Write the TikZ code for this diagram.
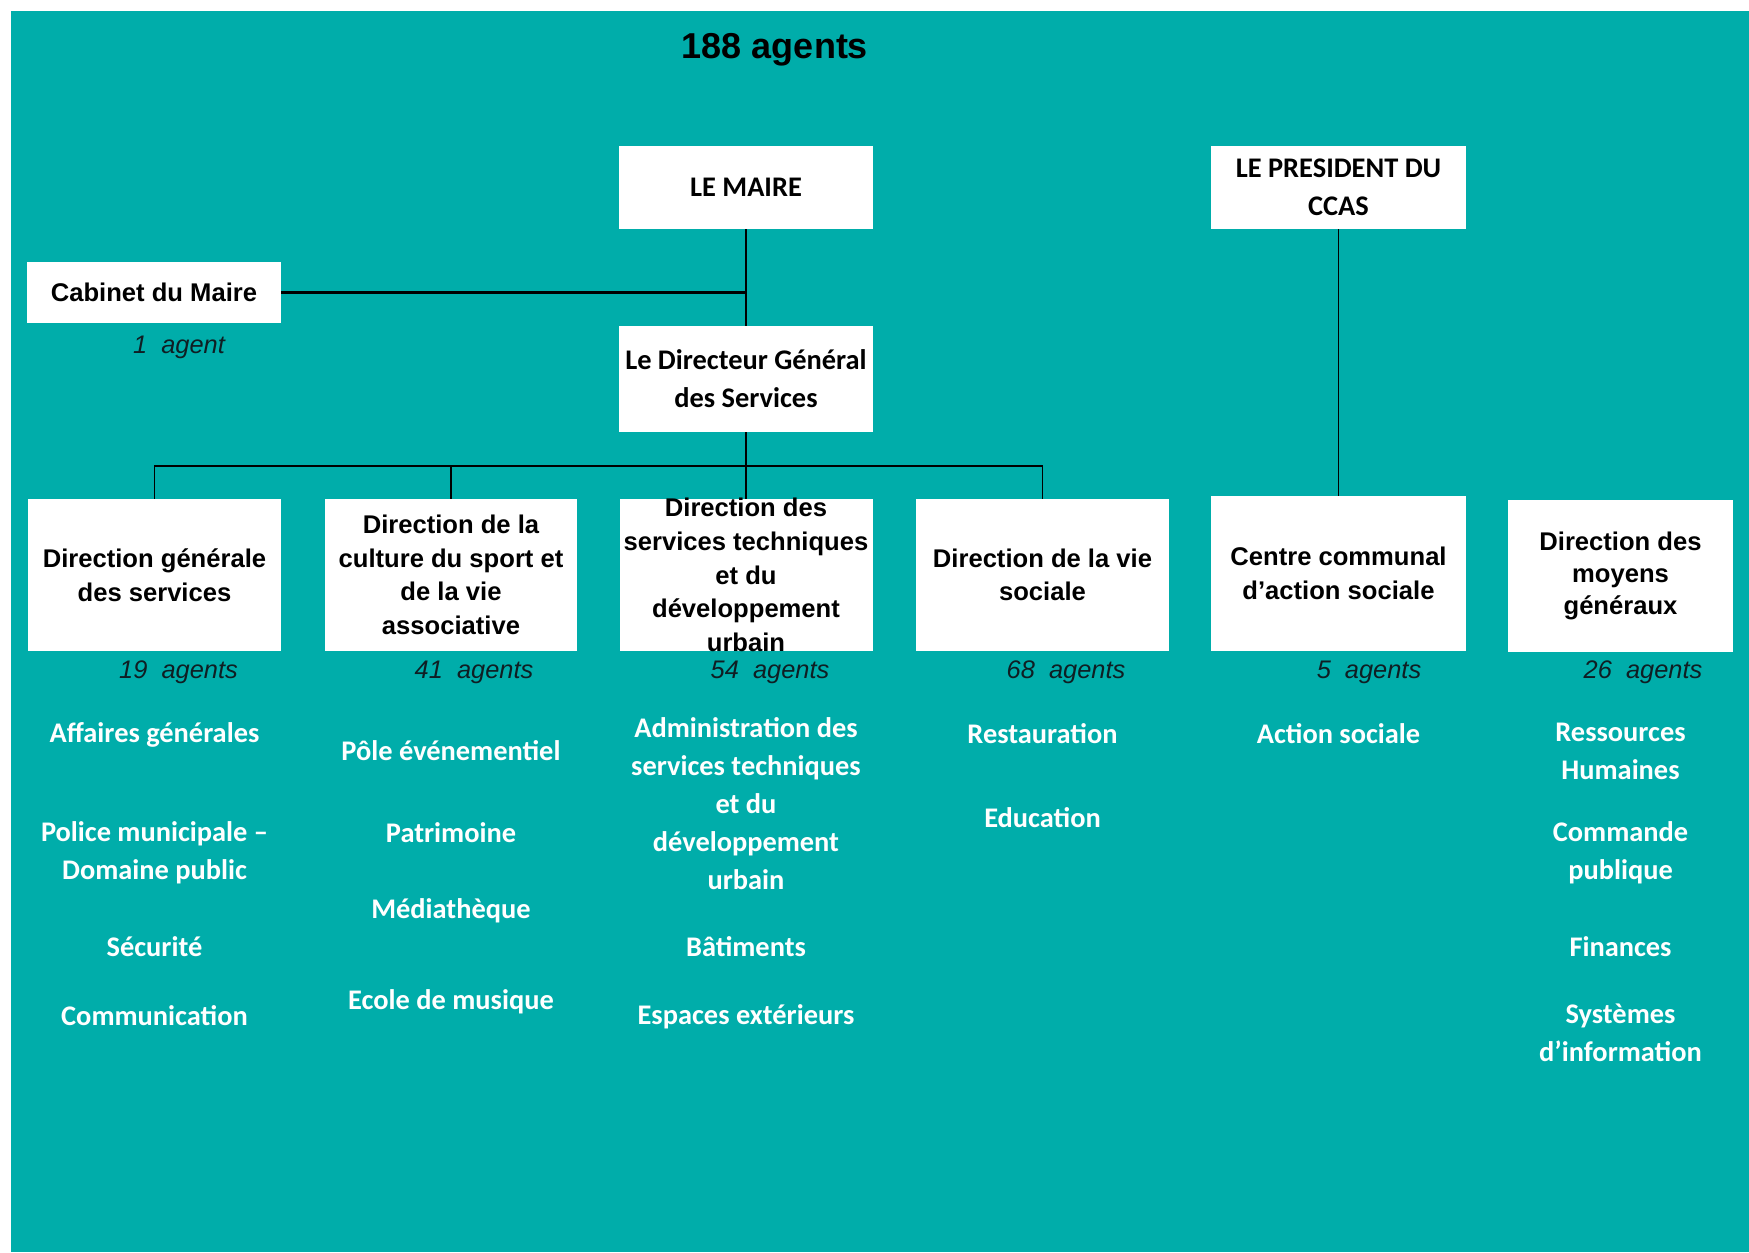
\documentclass[tikz,border=0pt]{standalone}
\usepackage{fontspec}
\setmainfont{Liberation Sans}
\newfontfamily\carlito{Carlito}
\definecolor{fond}{RGB}{0,173,170}
\definecolor{encre}{RGB}{15,30,35}
\newcommand{\cadre}[3]{\parbox[c][#2][c]{#1}{\centering #3}}
\begin{document}
\begin{tikzpicture}[x=0.5pt,y=-0.5pt,
    boite/.style={fill=white,inner sep=0pt,font=\bfseries\fontsize{12.8}{16.8}\selectfont},
    chef/.style={fill=white,inner sep=0pt,font=\carlito\bfseries\fontsize{14.2}{19}\selectfont},
    effectif/.style={font=\itshape\fontsize{12.7}{15}\selectfont,text=encre},
    service/.style={font=\carlito\bfseries\fontsize{14.2}{19}\selectfont,text=white,align=center},
    lien/.style={draw=black,line width=0.8pt}]
    \useasboundingbox (0,0) rectangle (1749,1252);
    \fill[fond] (11,11) rectangle (1749,1252);
    \node[font=\bfseries\fontsize{18}{22}\selectfont,anchor=base] (titre) at (775,59) {188 agents};

    \node[chef] (maire) at (746,187.5) {\cadre{127pt}{41.5pt}{LE MAIRE}};
    \node[chef] (president) at (1338.5,187.5) {\cadre{127.5pt}{41.5pt}{LE PRESIDENT DU\\CCAS}};
    \node[boite] (cabinet) at (154,292.5) {\cadre{127pt}{30.5pt}{Cabinet du Maire}};
    \node[chef] (dgs) at (746,379) {\cadre{127pt}{53pt}{Le Directeur Général\\des Services}};

    \node[boite] (dirgen) at (154.5,575) {\cadre{126.5pt}{76pt}{Direction générale\\des services}};
    \node[boite] (dirculture) at (451,575) {\cadre{126pt}{76pt}{Direction de la\\culture du sport et\\de la vie\\associative}};
    \node[boite] (dirtech) at (746,575) {\cadre{126.5pt}{76pt}{Direction des\\services techniques\\et du\\développement\\urbain}};
    \node[boite] (dirsociale) at (1042.5,575) {\cadre{126.5pt}{76pt}{Direction de la vie\\sociale}};
    \node[boite] (ccas) at (1338.5,573.5) {\cadre{127.5pt}{77.5pt}{Centre communal\\d’action sociale}};
    \node[boite,font=\bfseries\fontsize{12.8}{16}\selectfont] (dirmoyens) at (1620.5,576) {\cadre{112.5pt}{76pt}{Direction des\\moyens\\généraux}};

    \coordinate (cabjonction) at (maire.south |- cabinet.east);
    \coordinate (busgauche) at (dirgen.north |- 0,466);
    \coordinate (busdroite) at (dirsociale.north |- 0,466);
    \draw[lien,line width=1.1pt] (cabinet.east) -- (cabjonction);
    \draw[lien] (maire.south) -- (dgs.north);
    \draw[lien] (dirgen.north) -- (busgauche) -- (busdroite) -- (dirsociale.north);
    \draw[lien] (dirculture.north) -- (dirculture.north |- busgauche);
    \draw[lien] (dgs.south) -- (dirtech.north);
    \draw[lien] (president.south) -- (ccas.north);

    \node[effectif] (eff-cabinet) at (179,347) {1\ \ agent};
    \node[effectif] (eff-dirgen) at (178.5,672) {19\ \ agents};
    \node[effectif] (eff-dirculture) at (474,672) {41\ \ agents};
    \node[effectif] (eff-dirtech) at (770,672) {54\ \ agents};
    \node[effectif] (eff-dirsociale) at (1066,672) {68\ \ agents};
    \node[effectif] (eff-ccas) at (1369,672) {5\ \ agents};
    \node[effectif] (eff-dirmoyens) at (1643,672) {26\ \ agents};

    \node[service] (affaires) at (154.5,735) {Affaires générales};
    \node[service] (police) at (154.5,853) {Police municipale –\\Domaine public};
    \node[service] (securite) at (154.5,947) {Sécurité};
    \node[service] (communication) at (154.5,1016) {Communication};

    \node[service] (pole) at (451,751) {Pôle événementiel};
    \node[service] (patrimoine) at (451,833) {Patrimoine};
    \node[service] (mediatheque) at (451,911) {Médiathèque};
    \node[service] (musique) at (451,1002) {Ecole de musique};

    \node[service] (admintech) at (746,804) {Administration des\\services techniques\\et du\\développement\\urbain};
    \node[service] (batiments) at (746,947) {Bâtiments};
    \node[service] (espaces) at (746,1017) {Espaces extérieurs};

    \node[service] (restauration) at (1042.5,734) {Restauration};
    \node[service] (education) at (1042.5,818) {Education};

    \node[service] (action) at (1338.5,734) {Action sociale};

    \node[service] (rh) at (1620.5,751) {Ressources\\Humaines};
    \node[service] (commande) at (1620.5,853) {Commande\\publique};
    \node[service] (finances) at (1620.5,947) {Finances};
    \node[service] (si) at (1620.5,1033) {Systèmes\\d’information};
\end{tikzpicture}
\end{document}
